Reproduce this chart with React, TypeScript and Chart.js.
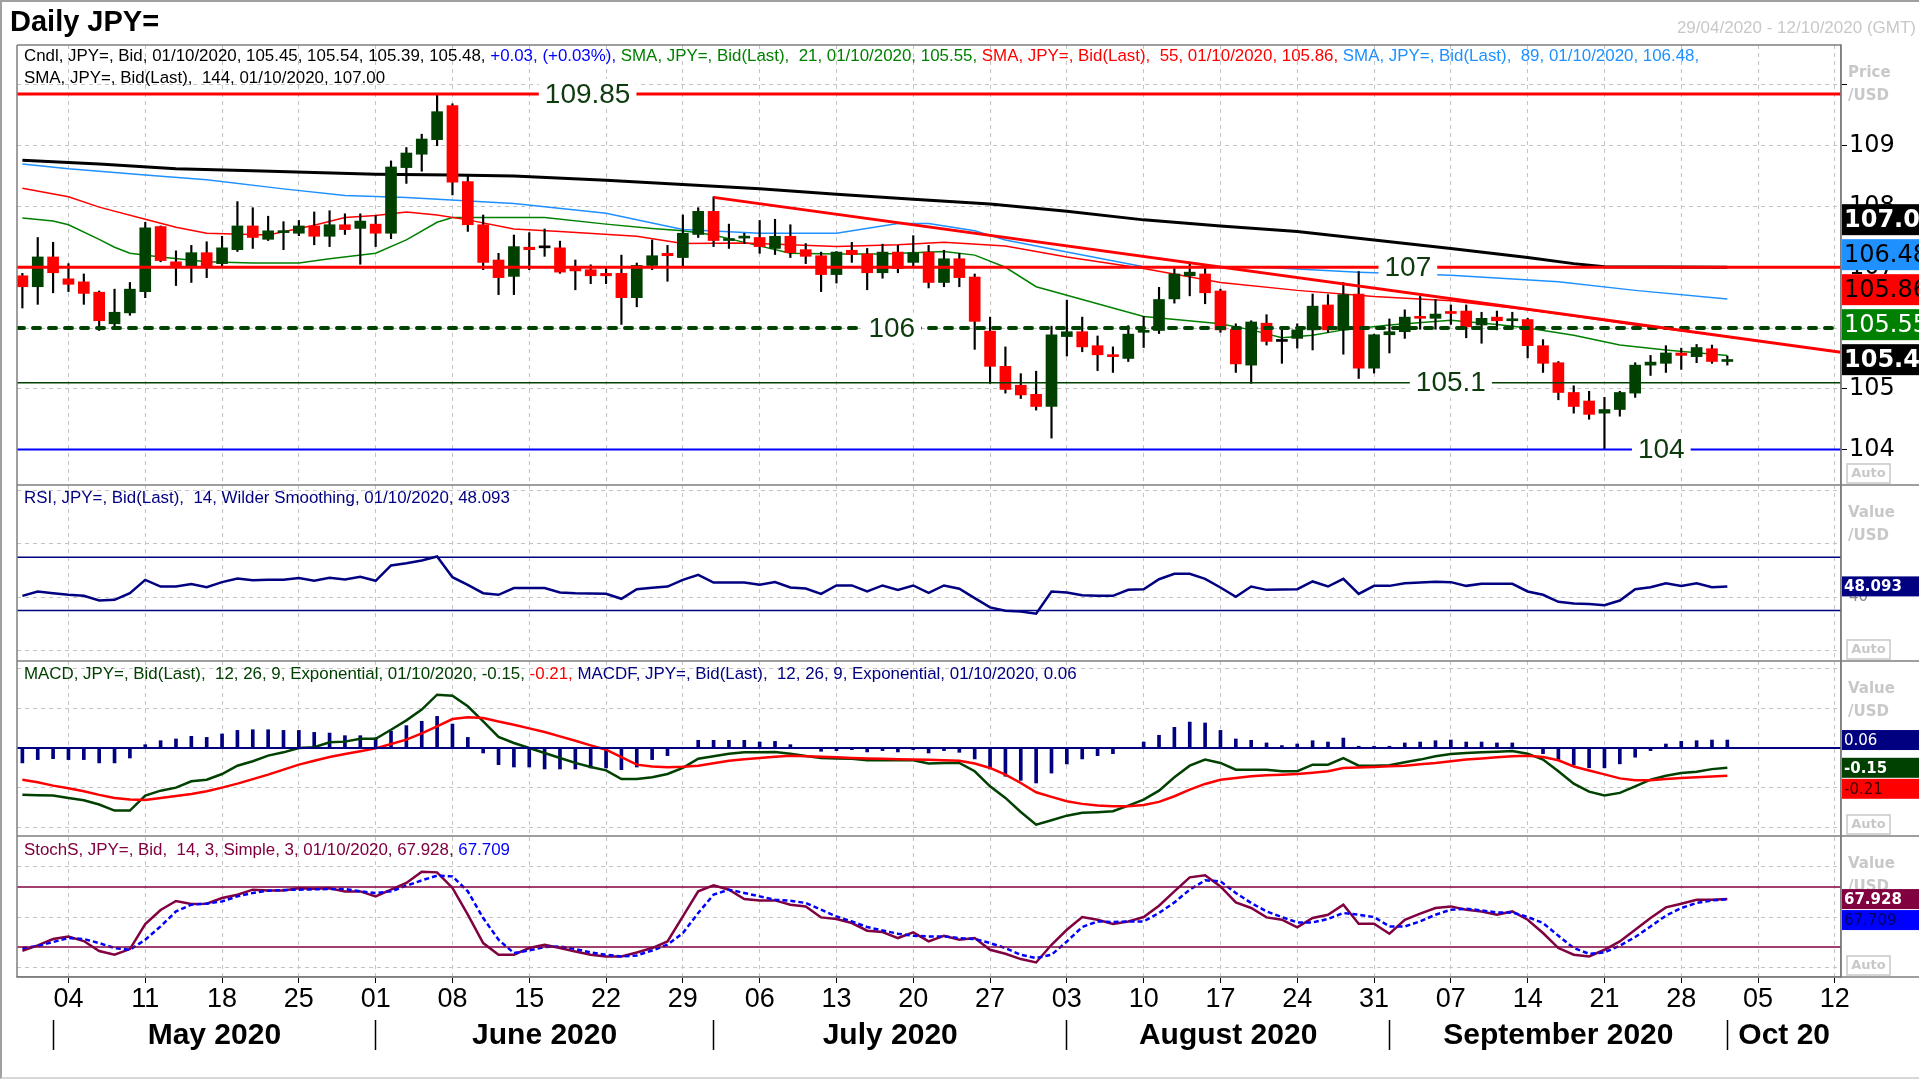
import React, { useEffect, useRef } from "react";
import { Chart, registerables } from "chart.js";

Chart.register(...registerables);

const SANS = '"Liberation Sans", Arial, Helvetica, sans-serif';
const VERD = '"DejaVu Sans", Verdana, sans-serif';

const FIRST_DAY = "2020-04-29";
const LAST_AXIS_DAY = "2020-10-12";

// ---------------- price data (daily candles, 29/04/2020 .. 01/10/2020) ----------------
const open = [
  106.86, 106.68, 107.17, 106.81, 106.76, 106.59, 106.07, 106.25, 106.6, 107.67,
  107.09, 107.0, 107.24, 107.06, 107.29, 107.68, 107.46, 107.57, 107.56, 107.68,
  107.51, 107.7, 107.64, 107.71, 107.56, 108.64, 108.86, 109.1, 109.66, 108.41,
  107.7, 107.12, 106.85, 107.33, 107.32, 107.32, 106.99, 106.96, 106.9, 106.9,
  106.5, 107.03, 107.23, 107.16, 107.54, 107.92, 107.44, 107.48, 107.49, 107.31,
  107.51, 107.29, 107.19, 106.88, 107.28, 107.22, 106.91, 107.25, 107.08, 107.25,
  106.75, 107.14, 106.84, 105.95, 105.37, 105.06, 104.91, 104.71, 105.86, 105.94,
  105.71, 105.56, 105.5, 105.93, 105.96, 106.48, 106.86, 106.89, 106.61, 105.98,
  105.39, 106.08, 105.78, 105.83, 105.97, 106.38, 105.97, 106.56, 105.34, 105.89,
  105.94, 106.18, 106.16, 106.27, 106.28, 106.05, 106.18, 106.12, 106.14, 105.71,
  105.43, 104.94, 104.8, 104.6, 104.66, 104.93, 105.39, 105.42, 105.59, 105.53,
  105.66, 105.45,
];
const high = [
  106.9, 107.49, 107.41, 107.06, 106.89, 106.61, 106.64, 106.75, 107.74, 107.68,
  107.27, 107.36, 107.42, 107.51, 108.08, 107.98, 107.84, 107.75, 107.77, 107.91,
  107.93, 107.88, 107.88, 107.85, 108.75, 108.97, 109.19, 109.85, 109.69, 108.5,
  107.86, 107.23, 107.53, 107.57, 107.63, 107.43, 107.12, 107.04, 106.98, 107.2,
  107.07, 107.45, 107.36, 107.86, 107.98, 108.16, 107.71, 107.56, 107.77, 107.79,
  107.7, 107.39, 107.25, 107.26, 107.41, 107.31, 107.38, 107.36, 107.52, 107.36,
  107.28, 107.23, 106.89, 106.18, 105.69, 105.25, 105.29, 106.03, 106.46, 106.18,
  105.87, 105.69, 106.04, 106.19, 106.67, 106.98, 107.07, 107.04, 106.64, 106.07,
  106.12, 106.22, 106.01, 106.07, 106.56, 106.55, 106.75, 106.93, 105.9, 106.15,
  106.3, 106.52, 106.47, 106.38, 106.38, 106.26, 106.28, 106.26, 106.16, 105.81,
  105.45, 105.05, 104.96, 104.86, 104.96, 105.43, 105.55, 105.71, 105.67, 105.73,
  105.72, 105.54,
];
const low = [
  106.33, 106.39, 106.58, 106.6, 106.39, 105.96, 105.99, 106.21, 106.5, 107.09,
  106.7, 106.75, 106.83, 107.01, 107.26, 107.31, 107.44, 107.29, 107.52, 107.37,
  107.34, 107.54, 107.05, 107.34, 107.47, 108.38, 108.58, 109.0, 108.19, 107.59,
  106.96, 106.55, 106.55, 106.96, 107.18, 106.9, 106.63, 106.73, 106.73, 106.06,
  106.35, 106.96, 106.77, 107.01, 107.49, 107.34, 107.31, 107.39, 107.23, 107.21,
  107.16, 107.06, 106.6, 106.74, 107.08, 106.63, 106.82, 106.91, 107.0, 106.66,
  106.68, 106.68, 105.65, 105.09, 104.93, 104.84, 104.65, 104.19, 105.54, 105.61,
  105.3, 105.27, 105.45, 105.68, 105.91, 106.41, 106.53, 106.4, 105.93, 105.27,
  105.09, 105.72, 105.42, 105.67, 105.64, 105.93, 105.57, 105.17, 105.26, 105.59,
  105.83, 105.98, 105.98, 106.06, 105.84, 105.75, 105.97, 106.02, 105.51, 105.27,
  104.82, 104.6, 104.5, 104.0, 104.55, 104.86, 105.22, 105.27, 105.32, 105.43,
  105.42, 105.39,
];
const close = [
  106.68, 107.17, 106.91, 106.72, 106.57, 106.12, 106.26, 106.64, 107.65, 107.11,
  107.0, 107.24, 107.0, 107.32, 107.68, 107.49, 107.6, 107.6, 107.68, 107.51,
  107.7, 107.62, 107.76, 107.56, 108.65, 108.88, 109.11, 109.56, 108.4, 107.7,
  107.08, 106.83, 107.34, 107.29, 107.32, 106.92, 106.94, 106.86, 106.86, 106.5,
  107.03, 107.19, 107.19, 107.56, 107.92, 107.44, 107.47, 107.51, 107.34, 107.51,
  107.24, 107.18, 106.88, 107.25, 107.21, 106.91, 107.25, 106.98, 107.24, 106.75,
  107.14, 106.83, 106.11, 105.37, 104.99, 104.9, 104.71, 105.89, 105.94, 105.69,
  105.56, 105.53, 105.9, 105.96, 106.47, 106.89, 106.92, 106.58, 105.97, 105.41,
  106.1, 105.78, 105.78, 105.97, 106.36, 105.97, 106.55, 105.34, 105.89, 105.94,
  106.18, 106.16, 106.23, 106.24, 106.02, 106.16, 106.12, 106.14, 105.71, 105.42,
  104.94, 104.71, 104.58, 104.66, 104.94, 105.39, 105.44, 105.59, 105.55, 105.68,
  105.45, 105.48,
];

// moving averages: [day index, value]
const sma21: [number, number][] = [
  [0, 107.81], [2, 107.76], [3, 107.7], [5, 107.46], [6, 107.33], [7, 107.23], [9, 107.17],
  [12, 107.09], [15, 107.07], [18, 107.07], [20, 107.14], [23, 107.23], [25, 107.45],
  [27, 107.74], [28, 107.82], [31, 107.82], [34, 107.82], [38, 107.71], [41, 107.64],
  [43, 107.6], [45, 107.53], [47, 107.41], [50, 107.23], [53, 107.22], [56, 107.22],
  [60, 107.26], [62, 107.2], [64, 107.0], [66, 106.68], [69, 106.47], [73, 106.19],
  [78, 106.07], [80, 105.97], [82, 105.84], [84, 105.88], [86, 105.97], [89, 106.05],
  [93, 106.13], [96, 106.06], [98, 106.0], [101, 105.88], [104, 105.72], [107, 105.64],
  [111, 105.55],
];
const sma55: [number, number][] = [
  [0, 108.3], [3, 108.16], [5, 107.99], [8, 107.79], [10, 107.66], [12, 107.56], [16, 107.53],
  [19, 107.69], [21, 107.82], [23, 107.85], [25, 107.91], [27, 107.86], [29, 107.78],
  [32, 107.63], [35, 107.59], [40, 107.51], [43, 107.39], [47, 107.4], [53, 107.34],
  [57, 107.37], [60, 107.41], [64, 107.35], [68, 107.17], [73, 106.98], [78, 106.75],
  [83, 106.62], [88, 106.52], [93, 106.45], [98, 106.3], [101, 106.2], [105, 106.05],
  [111, 105.86],
];
const sma89: [number, number][] = [
  [0, 108.7], [3, 108.62], [8, 108.52], [12, 108.44], [17, 108.29], [21, 108.18],
  [25, 108.15], [32, 108.05], [38, 107.89], [43, 107.62], [48, 107.56], [53, 107.56],
  [57, 107.72], [59, 107.72], [62, 107.6], [64, 107.45], [68, 107.25], [73, 107.01],
  [80, 107.01], [83, 106.97], [87, 106.92], [93, 106.87], [100, 106.76], [105, 106.62],
  [111, 106.48],
];
const sma144: [number, number][] = [
  [0, 108.76], [5, 108.7], [10, 108.62], [15, 108.59], [19, 108.56], [23, 108.53],
  [28, 108.52], [32, 108.5], [38, 108.43], [43, 108.36], [48, 108.29], [53, 108.2],
  [58, 108.12], [63, 108.04], [68, 107.92], [73, 107.78], [78, 107.68], [83, 107.59],
  [88, 107.45], [93, 107.31], [98, 107.16], [101, 107.06], [103, 107.01], [111, 107.0],
];
const trendLine: [number, number][] = [[45, 108.15], [118.4, 105.6]];

const levelValues = [109.85, 107, 106, 105.1, 104];
const levelLabels = ["109.85", "107", "106", "105.1", "104"];
const levelLabelAt = [36.8, 90.2, 56.6, 93.0, 106.7];

const priceTicks = [104, 105, 106, 107, 108, 109, 110];
const priceTickLabels = ["104", "105", "106", "107", "108", "109", ""];

// RSI(14)
const rsi = [
  41.0, 44.3, 43.0, 41.8, 41.0, 37.5, 38.0, 43.0, 53.0, 48.0,
  48.0, 49.8, 47.5, 51.3, 54.0, 52.8, 53.0, 53.0, 54.3, 52.3,
  54.5, 53.3, 55.3, 52.3, 63.8, 65.5, 67.5, 70.5, 55.0, 49.3,
  43.0, 41.8, 46.8, 46.8, 46.8, 43.5, 43.0, 42.8, 42.5, 38.8,
  46.0, 47.0, 48.0, 53.0, 56.8, 51.0, 51.0, 51.0, 49.3, 51.3,
  47.3, 46.5, 42.5, 48.8, 48.8, 44.3, 48.8, 45.5, 48.8, 43.3,
  48.8, 46.3, 39.3, 32.3, 29.8, 29.3, 27.6, 44.3, 43.5, 41.5,
  41.0, 41.0, 45.5, 46.0, 53.5, 57.5, 57.5, 53.8, 47.3, 40.3,
  48.0, 45.5, 45.8, 46.0, 51.8, 48.0, 53.8, 42.5, 48.5, 48.5,
  50.5, 51.0, 51.5, 51.3, 48.5, 50.0, 50.0, 50.0, 44.3, 41.8,
  36.5, 35.3, 34.8, 34.0, 37.5, 46.0, 47.5, 50.5, 48.5, 50.5,
  47.5, 48.093,
];
const rsiBands = [70, 30];
const rsiTicks = [0, 40, 80, 120];
const rsiTickLabels = ["", "40", "", ""];

// MACD(12,26,9)
const macdLine = [
  -0.353, -0.357, -0.36, -0.378, -0.396, -0.428, -0.474, -0.474, -0.36, -0.323,
  -0.3, -0.252, -0.24, -0.197, -0.134, -0.1, -0.058, -0.033, 0.0, 0.005,
  0.043, 0.048, 0.07, 0.07, 0.138, 0.209, 0.29, 0.403, 0.395, 0.315,
  0.201, 0.083, 0.038, 0.0, -0.038, -0.076, -0.113, -0.144, -0.169, -0.235,
  -0.235, -0.222, -0.197, -0.151, -0.081, -0.063, -0.043, -0.033, -0.033, -0.03,
  -0.043, -0.06, -0.076, -0.08, -0.081, -0.093, -0.093, -0.093, -0.093, -0.118,
  -0.113, -0.113, -0.176, -0.29, -0.378, -0.484, -0.58, -0.547, -0.512, -0.491,
  -0.486, -0.479, -0.436, -0.391, -0.323, -0.222, -0.134, -0.088, -0.113, -0.164,
  -0.164, -0.164, -0.176, -0.176, -0.126, -0.126, -0.076, -0.134, -0.134, -0.131,
  -0.108, -0.088, -0.063, -0.045, -0.038, -0.033, -0.028, -0.023, -0.043, -0.088,
  -0.176, -0.27, -0.33, -0.36, -0.34, -0.29, -0.24, -0.21, -0.19, -0.18,
  -0.16, -0.15,
];
const macdSignal = [
  -0.24, -0.26, -0.285, -0.305, -0.328, -0.355, -0.378, -0.39, -0.394, -0.378,
  -0.363, -0.348, -0.328, -0.3, -0.27, -0.236, -0.202, -0.164, -0.126, -0.097,
  -0.068, -0.046, -0.025, -0.003, 0.03, 0.063, 0.11, 0.164, 0.219, 0.232,
  0.227, 0.2, 0.176, 0.148, 0.121, 0.088, 0.055, 0.02, -0.013, -0.07,
  -0.126, -0.14, -0.146, -0.142, -0.134, -0.115, -0.096, -0.086, -0.076, -0.067,
  -0.058, -0.062, -0.066, -0.071, -0.076, -0.079, -0.082, -0.085, -0.088, -0.09,
  -0.093, -0.096, -0.118, -0.151, -0.202, -0.265, -0.335, -0.37, -0.403, -0.423,
  -0.436, -0.441, -0.441, -0.431, -0.408, -0.365, -0.315, -0.272, -0.24, -0.227,
  -0.214, -0.207, -0.202, -0.197, -0.187, -0.176, -0.151, -0.148, -0.144, -0.139,
  -0.134, -0.123, -0.113, -0.1, -0.088, -0.08, -0.071, -0.063, -0.058, -0.068,
  -0.093, -0.14, -0.17, -0.2, -0.23, -0.245, -0.245, -0.235, -0.228, -0.222,
  -0.215, -0.21,
];
const macdHist = [
  -0.113, -0.088, -0.081, -0.088, -0.088, -0.113, -0.113, -0.076, 0.025, 0.055,
  0.068, 0.088, 0.08, 0.106, 0.133, 0.138, 0.138, 0.133, 0.133, 0.118,
  0.113, 0.093, 0.093, 0.076, 0.126, 0.169, 0.202, 0.239, 0.181, 0.08,
  -0.038, -0.126, -0.144, -0.144, -0.159, -0.159, -0.159, -0.151, -0.151, -0.164,
  -0.144, -0.088, -0.058, -0.005, 0.058, 0.058, 0.058, 0.058, 0.045, 0.05,
  0.025, 0.005, -0.025, -0.02, -0.013, -0.03, -0.02, -0.03, -0.013, -0.038,
  -0.02, -0.033, -0.083, -0.159, -0.214, -0.245, -0.265, -0.19, -0.121, -0.083,
  -0.058, -0.043, 0.0, 0.045, 0.096, 0.156, 0.196, 0.189, 0.133, 0.068,
  0.058, 0.038, 0.018, 0.03, 0.055, 0.045, 0.075, 0.013, 0.013, 0.013,
  0.038, 0.045, 0.055, 0.06, 0.045, 0.045, 0.038, 0.038, 0.0, -0.043,
  -0.096, -0.13, -0.15, -0.15, -0.12, -0.07, -0.02, 0.03, 0.05, 0.055,
  0.06, 0.06,
];
const macdZero = [0];
const macdTicks = [-0.6, -0.3, 0, 0.3, 0.6];

// Slow stochastic (14,3,3)
const stochK = [
  16.3, 21.6, 28.0, 30.6, 26.0, 16.0, 12.3, 18.0, 43.0, 57.0,
  66.0, 63.0, 63.3, 69.0, 72.3, 77.3, 76.6, 76.6, 78.6, 78.3,
  78.6, 75.6, 75.6, 70.6, 77.3, 84.0, 95.3, 94.6, 79.0, 52.3,
  24.0, 12.3, 12.3, 19.0, 22.3, 19.0, 15.6, 12.3, 10.6, 10.6,
  14.6, 19.0, 25.6, 50.6, 75.6, 81.6, 77.3, 68.0, 66.6, 66.6,
  62.3, 60.6, 49.6, 48.0, 44.0, 36.3, 35.0, 29.0, 34.6, 25.6,
  31.3, 27.3, 29.0, 17.3, 13.3, 8.0, 4.6, 22.3, 37.3, 50.0,
  47.3, 43.0, 45.6, 50.0, 61.3, 75.6, 89.6, 91.6, 80.6, 64.6,
  59.0, 49.6, 47.3, 39.6, 49.0, 52.3, 62.3, 43.3, 43.3, 33.3,
  47.3, 53.3, 59.0, 60.6, 57.3, 55.6, 52.3, 55.6, 47.3, 34.0,
  19.0, 12.3, 10.6, 17.3, 25.6, 37.3, 49.0, 59.6, 63.3, 67.3,
  67.3, 67.928,
];
const stochD = [
  19.0, 21.0, 25.0, 29.0, 28.0, 24.0, 19.0, 17.3, 27.3, 40.6,
  55.6, 62.3, 63.3, 65.6, 70.6, 74.0, 76.3, 77.0, 77.3, 77.6,
  78.0, 78.0, 75.6, 74.0, 75.6, 81.3, 86.6, 91.3, 90.6, 75.6,
  49.0, 27.3, 14.0, 16.6, 20.0, 20.6, 18.0, 14.6, 12.3, 10.6,
  11.6, 16.6, 22.3, 34.0, 54.0, 72.3, 77.3, 74.0, 70.6, 67.3,
  66.3, 64.0, 57.3, 50.6, 45.6, 40.0, 36.6, 33.3, 31.3, 30.6,
  30.6, 29.0, 28.0, 24.0, 19.0, 12.3, 9.0, 12.3, 25.6, 40.0,
  45.6, 45.0, 45.6, 45.6, 54.0, 64.6, 77.3, 86.6, 85.6, 74.0,
  64.0, 55.6, 50.0, 44.6, 44.6, 48.0, 54.0, 52.3, 50.0, 40.6,
  40.6, 45.6, 52.3, 57.3, 58.3, 56.6, 54.6, 54.6, 50.0, 44.0,
  31.3, 19.0, 13.3, 14.6, 21.3, 30.0, 40.6, 51.3, 59.0, 64.0,
  66.6, 67.709,
];
const stochBands = [80, 20];
const stochTicks = [0, 50, 100];

const monthLabels = ["May 2020", "June 2020", "July 2020", "August 2020", "September 2020", "Oct 20"];

// ---------------- calendar helpers ----------------
function tradingDays(from: string, to: string): Date[] {
  const out: Date[] = [];
  const d = new Date(from + "T00:00:00Z");
  const e = new Date(to + "T00:00:00Z");
  while (d.getTime() <= e.getTime()) {
    const wd = d.getUTCDay();
    if (wd !== 0 && wd !== 6) out.push(new Date(d.getTime()));
    d.setUTCDate(d.getUTCDate() + 1);
  }
  return out;
}
const days = tradingDays(FIRST_DAY, LAST_AXIS_DAY);
const X_MIN = -0.35;
const X_MAX = days.length - 1 + 0.4;
const pad2 = (n: number) => (n < 10 ? "0" : "") + n;
const fmtDate = (d: Date) => `${pad2(d.getUTCDate())}/${pad2(d.getUTCMonth() + 1)}/${d.getUTCFullYear()}`;

const weekTicks: number[] = [];
const weekLabels: string[] = [];
days.forEach((d, i) => {
  if (d.getUTCDay() === 1) {
    weekTicks.push(i);
    weekLabels.push(pad2(d.getUTCDate()));
  }
});
const monthStarts: number[] = [];
days.forEach((d, i) => {
  if (i > 0 && d.getUTCMonth() !== days[i - 1].getUTCMonth()) monthStarts.push(i);
});
const monthCenters = monthStarts.map((s, k) => (s + (k + 1 < monthStarts.length ? monthStarts[k + 1] : X_MAX)) / 2);

const LAST = close.length - 1;
const lastDate = fmtDate(days[LAST]);
const lastOf = (a: [number, number][]) => a[a.length - 1][1];
const chg = close[LAST] - close[LAST - 1];
const chgPct = (chg / close[LAST - 1]) * 100;
const sgn = (v: number) => (v >= 0 ? "+" : "");

// ---------------- colours ----------------
const UP = "#004000";
const DOWN = "#ff0000";
const NAVY = "#000080";
const GRID = "#c4c4c4";
const FRAME = "#7f7f7f";
const CAPTION = "#c8c8c8";

const pts = (a: [number, number][]) => a.map(([x, y]) => ({ x, y }));
const seq = (a: number[]) => a.map((y, x) => ({ x, y }));
const hline = (v: number) => [{ x: X_MIN, y: v }, { x: X_MAX, y: v }];

const levelStyle = [
  { color: "#ff0000", width: 3, dash: [] as number[] },
  { color: "#ff0000", width: 3, dash: [] as number[] },
  { color: "#004000", width: 4, dash: [7, 9] },
  { color: "#004000", width: 1.5, dash: [] as number[] },
  { color: "#0000ff", width: 2, dash: [] as number[] },
];

type Tag = { value: number; text: string; bg: string; fg: string; bold: boolean };
const panelTags: Record<string, { dir: "up" | "down"; h: number; step: number; size: number; tags: Tag[] }> = {
  y: {
    dir: "up", h: 31, step: 35, size: 24,
    tags: [
      { value: lastOf(sma144), text: lastOf(sma144).toFixed(2), bg: "#000000", fg: "#ffffff", bold: true },
      { value: lastOf(sma89), text: lastOf(sma89).toFixed(2), bg: "#1e90ff", fg: "#000000", bold: false },
      { value: lastOf(sma55), text: lastOf(sma55).toFixed(2), bg: "#ff0000", fg: "#000000", bold: false },
      { value: lastOf(sma21), text: lastOf(sma21).toFixed(2), bg: "#008000", fg: "#ffffff", bold: false },
      { value: close[LAST], text: close[LAST].toFixed(2), bg: "#000000", fg: "#ffffff", bold: true },
    ],
  },
  yr: {
    dir: "down", h: 20, step: 21, size: 15,
    tags: [{ value: rsi[LAST], text: rsi[LAST].toFixed(3), bg: NAVY, fg: "#ffffff", bold: true }],
  },
  ym: {
    dir: "down", h: 20, step: 21, size: 15,
    tags: [
      { value: macdHist[LAST], text: macdHist[LAST].toFixed(2), bg: NAVY, fg: "#ffffff", bold: false },
      { value: macdLine[LAST], text: macdLine[LAST].toFixed(2), bg: "#004000", fg: "#ffffff", bold: true },
      { value: macdSignal[LAST], text: macdSignal[LAST].toFixed(2), bg: "#ff0000", fg: "#400000", bold: false },
    ],
  },
  ys: {
    dir: "down", h: 20, step: 21, size: 15,
    tags: [
      { value: stochK[LAST], text: stochK[LAST].toFixed(3), bg: "#800040", fg: "#ffffff", bold: true },
      { value: stochD[LAST], text: stochD[LAST].toFixed(3), bg: "#0000ff", fg: "#000060", bold: false },
    ],
  },
};
const panelCaptions: Record<string, string> = { y: "Price", yr: "Value", ym: "Value", ys: "Value" };

const overlayPlugin = {
  id: "overlay",
  afterDraw(chart: any) {
    const { ctx, chartArea: a, scales } = chart;
    const W = chart.width;
    const ids = ["y", "yr", "ym", "ys"];
    ctx.save();
    // level labels with white backing
    const ys = scales.y;
    const xs = scales.x;
    ctx.font = `28px ${SANS}`;
    ctx.textBaseline = "middle";
    ctx.textAlign = "center";
    levelValues.forEach((v, k) => {
      const px = xs.getPixelForValue(levelLabelAt[k]);
      const py = ys.getPixelForValue(v);
      const w = ctx.measureText(levelLabels[k]).width + 12;
      ctx.fillStyle = "#ffffff";
      ctx.fillRect(px - w / 2, py - 15, w, 30);
      ctx.fillStyle = "#0d3b0d";
      ctx.fillText(levelLabels[k], px, py + 1);
    });
    // frame + panel separators
    ctx.strokeStyle = FRAME;
    ctx.lineWidth = 1.5;
    ctx.beginPath();
    ctx.moveTo(a.left, a.top);
    ctx.lineTo(a.right, a.top);
    ctx.moveTo(a.left, a.top);
    ctx.lineTo(a.left, a.bottom);
    ctx.moveTo(a.right, a.top);
    ctx.lineTo(a.right, a.bottom);
    ids.forEach((id) => {
      const s = scales[id];
      ctx.moveTo(a.left, s.bottom);
      ctx.lineTo(W, s.bottom);
    });
    ctx.stroke();
    // captions and Auto boxes
    ids.forEach((id) => {
      const s = scales[id];
      ctx.fillStyle = CAPTION;
      ctx.textAlign = "left";
      ctx.textBaseline = "middle";
      ctx.font = `bold 15px ${VERD}`;
      ctx.fillText(panelCaptions[id], a.right + 7, s.top + 28);
      ctx.fillText("/USD", a.right + 7, s.top + 51);
      ctx.strokeStyle = CAPTION;
      ctx.lineWidth = 1.5;
      ctx.strokeRect(a.right + 6, s.bottom - 21, 43, 19);
      ctx.font = `bold 13px ${VERD}`;
      ctx.textAlign = "center";
      ctx.fillText("Auto", a.right + 27.5, s.bottom - 11);
    });
    // value tags
    ids.forEach((id) => {
      const s = scales[id];
      const cfg = panelTags[id];
      const yPos = cfg.tags.map((t) => s.getPixelForValue(t.value));
      if (cfg.dir === "up") {
        for (let k = yPos.length - 2; k >= 0; k--) yPos[k] = Math.min(yPos[k], yPos[k + 1] - cfg.step);
      } else {
        for (let k = 1; k < yPos.length; k++) yPos[k] = Math.max(yPos[k], yPos[k - 1] + cfg.step);
      }
      cfg.tags.forEach((t, k) => {
        const y = yPos[k];
        ctx.fillStyle = t.bg;
        ctx.fillRect(a.right + 1, y - cfg.h / 2, W - a.right, cfg.h);
        ctx.fillStyle = t.fg;
        ctx.textAlign = "left";
        ctx.textBaseline = "middle";
        ctx.font = `${t.bold ? "bold " : ""}${cfg.size}px ${VERD}`;
        ctx.fillText(t.text, a.right + 3, y + 1);
      });
    });
    ctx.restore();
  },
};

function buildConfig(): any {
  const idx = close.map((_, i) => i);
  const bodyColors = idx.map((i) => (close[i] > open[i] ? UP : close[i] < open[i] ? DOWN : "#000000"));
  const lineDs = (data: any[], color: string, width: number, axis: string, extra: any = {}) => ({
    type: "line",
    data,
    borderColor: color,
    borderWidth: width,
    pointRadius: 0,
    tension: 0,
    fill: false,
    xAxisID: "x",
    yAxisID: axis,
    order: 4,
    ...extra,
  });

  const datasets: any[] = [
    // moving averages (under the candles)
    lineDs(pts(sma144), "#000000", 3, "y", { order: 5 }),
    lineDs(pts(sma89), "#1e90ff", 1.5, "y", { order: 5 }),
    lineDs(pts(sma55), "#ff0000", 1.5, "y", { order: 5 }),
    lineDs(pts(sma21), "#008000", 1.5, "y", { order: 5 }),
    // candles
    {
      type: "bar",
      data: idx.map((i) => ({ x: i, y: [low[i], high[i]] })),
      backgroundColor: "#000000",
      barThickness: 1.5,
      grouped: false,
      borderWidth: 0,
      xAxisID: "x",
      yAxisID: "y",
      order: 3,
    },
    {
      type: "bar",
      data: idx.map((i) => ({ x: i, y: [open[i], close[i]] })),
      backgroundColor: bodyColors,
      barThickness: 11,
      minBarLength: 2,
      grouped: false,
      borderWidth: 0,
      xAxisID: "x",
      yAxisID: "y",
      order: 2,
    },
    // trend line
    lineDs(pts(trendLine), "#ff0000", 3, "y", { order: 1 }),
    // horizontal levels
    ...levelValues.map((v, k) =>
      lineDs(hline(v), levelStyle[k].color, levelStyle[k].width, "y", {
        order: 1,
        borderDash: levelStyle[k].dash,
        borderCapStyle: levelStyle[k].dash.length ? "round" : "butt",
      })
    ),
    // RSI
    ...rsiBands.map((v) => lineDs(hline(v), NAVY, 1.5, "yr")),
    lineDs(seq(rsi), NAVY, 2.5, "yr"),
    // MACD
    {
      type: "bar",
      data: seq(macdHist),
      backgroundColor: NAVY,
      barThickness: 3,
      grouped: false,
      borderWidth: 0,
      xAxisID: "x",
      yAxisID: "ym",
      order: 6,
    },
    ...macdZero.map((v) => lineDs(hline(v), NAVY, 2, "ym")),
    lineDs(seq(macdSignal), "#ff0000", 2.5, "ym"),
    lineDs(seq(macdLine), "#004000", 2.5, "ym"),
    // Stochastic
    ...stochBands.map((v) => lineDs(hline(v), "#800040", 1.5, "ys")),
    lineDs(seq(stochD), "#0000ff", 2.5, "ys", { borderDash: [5, 3] }),
    lineDs(seq(stochK), "#800040", 2.5, "ys"),
  ];

  const yCommon = (ticksArr: number[], labels: string[], size: number, color: string, drawTicks: boolean) => ({
    type: "linear",
    position: "right",
    stack: "panels",
    offset: false,
    afterBuildTicks: (s: any) => {
      s.ticks = ticksArr.map((v) => ({ value: v }));
    },
    afterFit: (s: any) => {
      s.width = 78;
    },
    ticks: {
      autoSkip: false,
      padding: drawTicks ? 2 : 8,
      color,
      font: { family: VERD, size },
      callback: (_v: any, i: number) => labels[i],
    },
    grid: { color: GRID, lineWidth: 1, drawTicks, tickLength: 6, tickColor: "#000000", tickBorderDash: [] },
    border: { display: true, color: FRAME, width: 1.5, dash: [4, 4] },
  });

  return {
    type: "bar",
    data: { datasets },
    options: {
      animation: false,
      responsive: false,
      events: [],
      layout: { padding: { left: 17, top: 45, right: 0, bottom: 0 } },
      plugins: { legend: { display: false }, tooltip: { enabled: false }, title: { display: false } },
      scales: {
        x: {
          type: "linear",
          position: "bottom",
          min: X_MIN,
          max: X_MAX,
          offset: false,
          afterBuildTicks: (s: any) => {
            s.ticks = weekTicks.map((v) => ({ value: v }));
          },
          afterFit: (s: any) => {
            s.height = 43;
          },
          ticks: {
            autoSkip: false,
            maxRotation: 0,
            minRotation: 0,
            padding: 0,
            color: "#000000",
            font: { family: SANS, size: 27 },
            callback: (_v: any, i: number) => weekLabels[i],
          },
          grid: { color: GRID, offset: false, tickLength: 6, tickColor: "#000000", tickBorderDash: [] },
          border: { display: true, color: FRAME, width: 1.5, dash: [4, 4] },
        },
        xsep: {
          type: "linear",
          position: "bottom",
          weight: 1,
          min: X_MIN,
          max: X_MAX,
          offset: false,
          afterBuildTicks: (s: any) => {
            s.ticks = monthStarts.map((v) => ({ value: v }));
          },
          afterFit: (s: any) => {
            s.height = 0;
          },
          ticks: { display: false, autoSkip: false },
          grid: {
            display: true,
            drawOnChartArea: false,
            drawTicks: true,
            tickLength: 30,
            tickColor: "#000000",
            tickWidth: 1.5,
            color: "#000000",
            offset: false,
            tickBorderDash: [],
          },
          border: { display: false },
        },
        xm: {
          type: "linear",
          position: "bottom",
          weight: 2,
          min: X_MIN,
          max: X_MAX,
          offset: false,
          afterBuildTicks: (s: any) => {
            s.ticks = monthCenters.map((v) => ({ value: v }));
          },
          afterFit: (s: any) => {
            s.height = 59;
          },
          ticks: {
            autoSkip: false,
            maxRotation: 0,
            minRotation: 0,
            padding: -7,
            color: "#000000",
            font: { family: SANS, size: 30, weight: "bold", lineHeight: 1 },
            callback: (_v: any, i: number) => monthLabels[i],
          },
          grid: { display: false },
          border: { display: false },
        },
        y: { ...yCommon(priceTicks, priceTickLabels, 24, "#000000", true), stackWeight: 440, min: 103.418, max: 110.657 },
        yr: { ...yCommon(rsiTicks, rsiTickLabels, 15, "#8a8a8a", false), stackWeight: 176, min: -7.9, max: 124.2 },
        ym: { ...yCommon(macdTicks, macdTicks.map(() => ""), 15, "#8a8a8a", false), stackWeight: 175, min: -0.666, max: 0.658 },
        ys: { ...yCommon(stochTicks, stochTicks.map(() => ""), 15, "#8a8a8a", false), stackWeight: 141, min: -9.9, max: 130.9 },
      },
    },
    plugins: [overlayPlugin],
  };
}

type Part = [string, string];
function LegendLine({ top, parts }: { top: number; parts: Part[] }) {
  return (
    <div
      style={{
        position: "absolute",
        left: 24,
        top,
        font: `16.9px ${SANS}`,
        lineHeight: "20px",
        whiteSpace: "pre",
      }}
    >
      {parts.map(([t, c], k) => (
        <span key={k} style={{ color: c }}>
          {t}
        </span>
      ))}
    </div>
  );
}

export default function App() {
  const canvasRef = useRef<HTMLCanvasElement | null>(null);
  useEffect(() => {
    const canvas = canvasRef.current;
    if (!canvas) return;
    const chart = new Chart(canvas, buildConfig());
    return () => chart.destroy();
  }, []);

  const f2 = (v: number) => v.toFixed(2);
  const mainParts: Part[] = [
    [`Cndl, JPY=, Bid, ${lastDate}, ${f2(open[LAST])}, ${f2(high[LAST])}, ${f2(low[LAST])}, ${f2(close[LAST])}, `, "#000000"],
    [`${sgn(chg)}${f2(chg)}, (${sgn(chgPct)}${f2(chgPct)}%), `, "#0000ff"],
    [`SMA, JPY=, Bid(Last),  21, ${lastDate}, ${f2(lastOf(sma21))}, `, "#008000"],
    [`SMA, JPY=, Bid(Last),  55, ${lastDate}, ${f2(lastOf(sma55))}, `, "#ff0000"],
    [`SMA, JPY=, Bid(Last),  89, ${lastDate}, ${f2(lastOf(sma89))}, `, "#1e90ff"],
  ];
  const main2: Part[] = [[`SMA, JPY=, Bid(Last),  144, ${lastDate}, ${f2(lastOf(sma144))}`, "#000000"]];
  const rsiParts: Part[] = [[`RSI, JPY=, Bid(Last),  14, Wilder Smoothing, ${lastDate}, ${rsi[LAST].toFixed(3)}`, NAVY]];
  const macdParts: Part[] = [
    [`MACD, JPY=, Bid(Last),  12, 26, 9, Exponential, ${lastDate}, ${f2(macdLine[LAST])}, `, "#004000"],
    [`${f2(macdSignal[LAST])}, `, "#ff0000"],
    [`MACDF, JPY=, Bid(Last),  12, 26, 9, Exponential, ${lastDate}, ${f2(macdHist[LAST])}`, NAVY],
  ];
  const stochParts: Part[] = [
    [`StochS, JPY=, Bid,  14, 3, Simple, 3, ${lastDate}, ${stochK[LAST].toFixed(3)}, `, "#800040"],
    [`${stochD[LAST].toFixed(3)}`, "#0000ff"],
  ];

  return (
    <div
      style={{
        position: "fixed",
        left: 0,
        top: 0,
        width: 1919,
        height: 1079,
        background: "#ffffff",
        overflow: "hidden",
      }}
    >
      <canvas
        ref={canvasRef}
        width={1919}
        height={1079}
        style={{ position: "absolute", left: 0, top: 0, width: 1919, height: 1079 }}
      />
      <div
        style={{
          position: "absolute",
          left: 10,
          top: 7,
          font: `bold 29px ${SANS}`,
          lineHeight: "29px",
          color: "#000000",
        }}
      >
        Daily JPY=
      </div>
      <div
        style={{
          position: "absolute",
          right: 3,
          top: 19,
          font: `17px ${SANS}`,
          lineHeight: "18px",
          color: "#c8c8c8",
          whiteSpace: "pre",
        }}
      >
        {`${fmtDate(days[0])} - ${fmtDate(days[days.length - 1])} (GMT)`}
      </div>
      <LegendLine top={46} parts={mainParts} />
      <LegendLine top={68} parts={main2} />
      <LegendLine top={488} parts={rsiParts} />
      <LegendLine top={664} parts={macdParts} />
      <LegendLine top={840} parts={stochParts} />
      <div
        style={{
          position: "absolute",
          left: 0,
          top: 0,
          width: 1919,
          height: 1079,
          boxSizing: "border-box",
          borderTop: "2px solid #a0a0a0",
          borderLeft: "2px solid #a0a0a0",
          borderBottom: "2px solid #d8d8d8",
          pointerEvents: "none",
        }}
      />
    </div>
  );
}
